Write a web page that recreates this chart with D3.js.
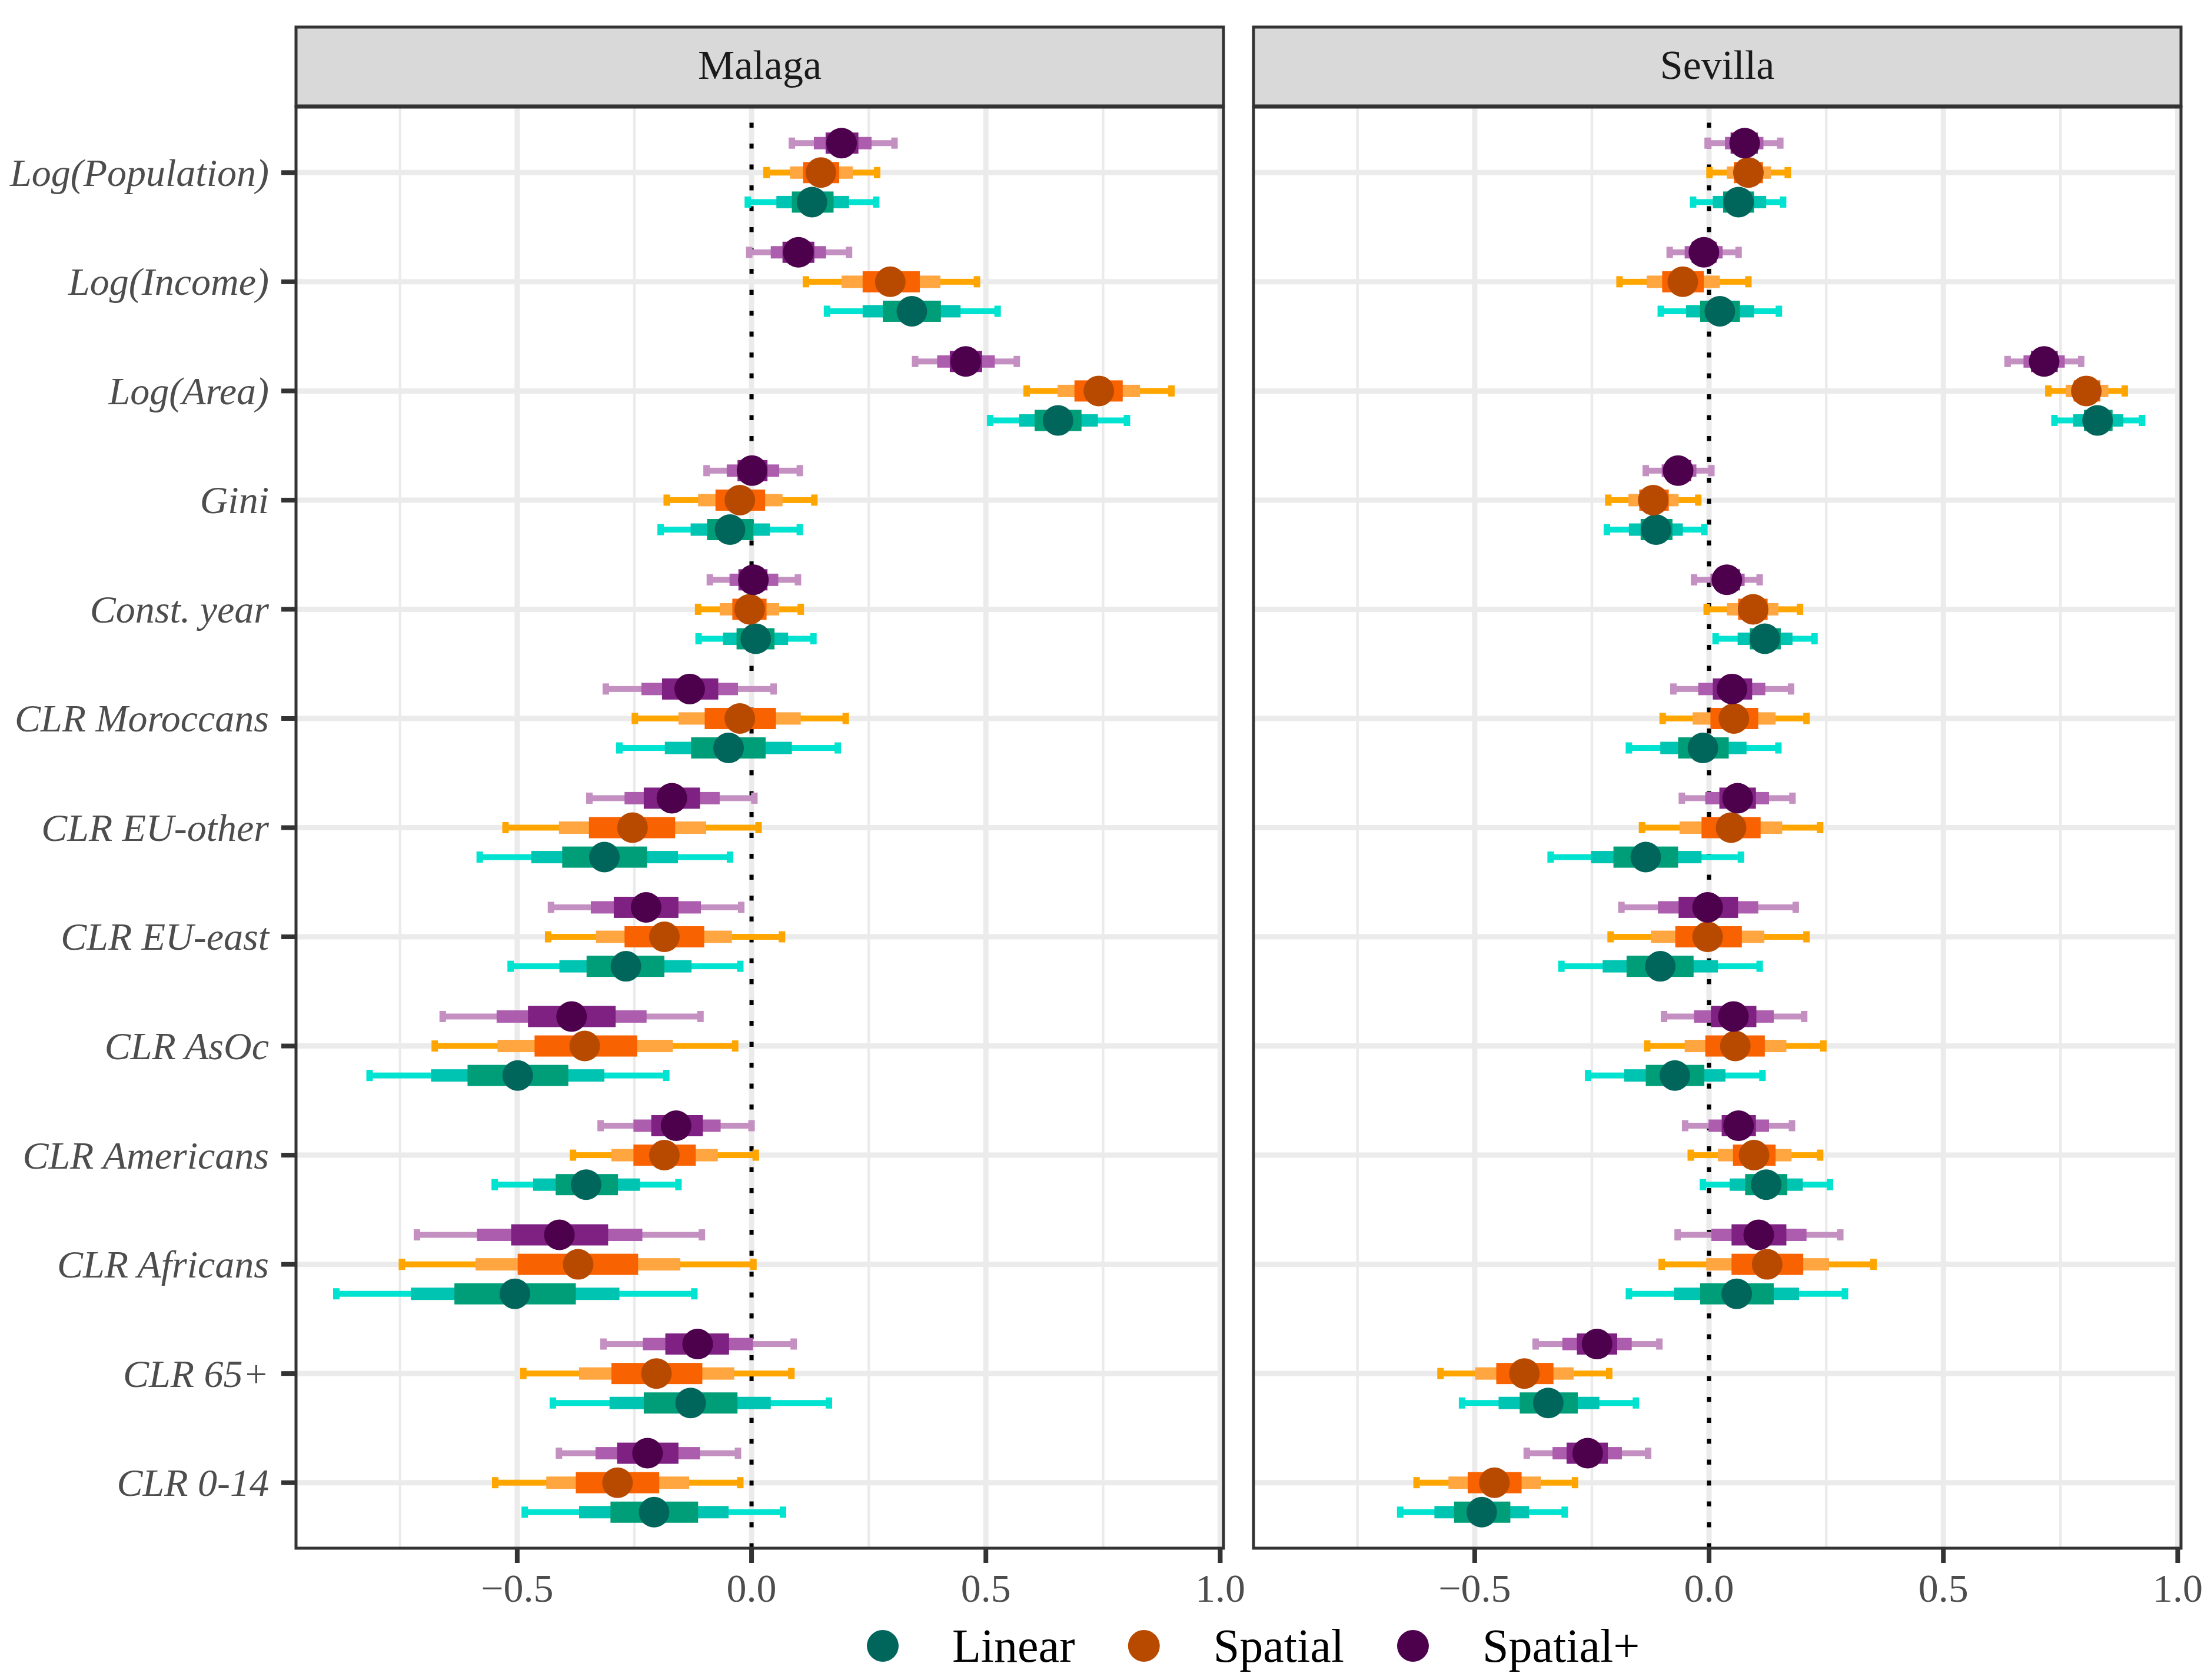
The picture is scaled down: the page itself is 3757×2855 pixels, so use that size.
<!DOCTYPE html>
<html>
<meta charset="utf-8">
<style>
    body { margin: 0; background: #fff; }
    svg { display: block; }
</style>
<body>
<svg width="3757" height="2855"></svg>
<script src="https://d3js.org/d3.v7.min.js"></script>
<script>

    // row labels, top to bottom
    const vars = ["Log(Population)", "Log(Income)", "Log(Area)", "Gini", "Const. year",
        "CLR Moroccans", "CLR EU-other", "CLR EU-east", "CLR AsOc", "CLR Americans",
        "CLR Africans", "CLR 65+", "CLR 0-14"];
    const cities = ["Malaga", "Sevilla"];
    const models = ["Linear", "Spatial", "Spatial+"];
    const xTicks = [-0.5, 0, 0.5, 1.0];
    const xTickLabels = ["\u22120.5", "0.0", "0.5", "1.0"];

    // each row: [lo95, lo80, lo50, estimate, hi50, hi80, hi95]
    const malagaLinear = [
        [-0.008, 0.053, 0.086, 0.129, 0.175, 0.208, 0.266],
        [0.161, 0.237, 0.280, 0.342, 0.404, 0.446, 0.525],
        [0.509, 0.571, 0.604, 0.654, 0.704, 0.739, 0.801],
        [-0.194, -0.130, -0.095, -0.046, 0.004, 0.039, 0.103],
        [-0.113, -0.061, -0.032, 0.009, 0.049, 0.078, 0.132],
        [-0.282, -0.185, -0.129, -0.049, 0.030, 0.086, 0.184],
        [-0.580, -0.470, -0.404, -0.314, -0.223, -0.157, -0.046],
        [-0.514, -0.410, -0.352, -0.268, -0.186, -0.128, -0.024],
        [-0.815, -0.684, -0.606, -0.499, -0.391, -0.314, -0.182],
        [-0.548, -0.466, -0.418, -0.353, -0.285, -0.238, -0.156],
        [-0.886, -0.727, -0.634, -0.505, -0.375, -0.282, -0.122],
        [-0.424, -0.303, -0.230, -0.130, -0.030, 0.041, 0.165],
        [-0.484, -0.368, -0.301, -0.208, -0.114, -0.049, 0.067]
    ];
    const malagaSpatial = [
        [0.032, 0.082, 0.110, 0.148, 0.187, 0.216, 0.268],
        [0.116, 0.192, 0.237, 0.296, 0.359, 0.403, 0.481],
        [0.587, 0.653, 0.689, 0.741, 0.792, 0.829, 0.896],
        [-0.181, -0.114, -0.077, -0.025, 0.029, 0.066, 0.134],
        [-0.114, -0.068, -0.041, -0.004, 0.032, 0.059, 0.105],
        [-0.249, -0.156, -0.100, -0.025, 0.052, 0.105, 0.201],
        [-0.525, -0.411, -0.347, -0.254, -0.163, -0.097, 0.015],
        [-0.434, -0.332, -0.271, -0.186, -0.101, -0.042, 0.065],
        [-0.676, -0.542, -0.463, -0.356, -0.244, -0.168, -0.035],
        [-0.381, -0.299, -0.252, -0.186, -0.119, -0.072, 0.009],
        [-0.746, -0.589, -0.499, -0.370, -0.242, -0.152, 0.004],
        [-0.487, -0.368, -0.299, -0.203, -0.105, -0.037, 0.085],
        [-0.547, -0.438, -0.375, -0.286, -0.197, -0.133, -0.024]
    ];
    const malagaSpatialPlus = [
        [0.086, 0.133, 0.158, 0.192, 0.228, 0.256, 0.305],
        [-0.005, 0.041, 0.066, 0.100, 0.134, 0.159, 0.208],
        [0.349, 0.396, 0.423, 0.457, 0.492, 0.519, 0.566],
        [-0.096, -0.053, -0.030, 0.001, 0.034, 0.059, 0.103],
        [-0.089, -0.047, -0.028, 0.004, 0.034, 0.057, 0.099],
        [-0.311, -0.235, -0.191, -0.132, -0.071, -0.029, 0.047],
        [-0.346, -0.271, -0.230, -0.170, -0.110, -0.068, 0.006],
        [-0.428, -0.343, -0.294, -0.225, -0.156, -0.108, -0.022],
        [-0.659, -0.544, -0.477, -0.384, -0.290, -0.224, -0.109],
        [-0.322, -0.252, -0.214, -0.161, -0.104, -0.066, 0.000],
        [-0.714, -0.586, -0.513, -0.410, -0.306, -0.233, -0.106],
        [-0.316, -0.232, -0.184, -0.115, -0.048, 0.003, 0.090],
        [-0.411, -0.333, -0.287, -0.222, -0.156, -0.110, -0.029]
    ];
    const sevillaLinear = [
        [-0.034, 0.008, 0.030, 0.063, 0.096, 0.122, 0.158],
        [-0.103, -0.049, -0.019, 0.023, 0.066, 0.096, 0.149],
        [0.737, 0.777, 0.800, 0.829, 0.861, 0.884, 0.924],
        [-0.218, -0.171, -0.146, -0.113, -0.078, -0.056, -0.010],
        [0.014, 0.061, 0.087, 0.119, 0.153, 0.178, 0.225],
        [-0.171, -0.104, -0.066, -0.013, 0.042, 0.080, 0.148],
        [-0.338, -0.252, -0.204, -0.135, -0.066, -0.016, 0.068],
        [-0.315, -0.227, -0.176, -0.104, -0.033, 0.019, 0.108],
        [-0.258, -0.181, -0.135, -0.073, -0.010, 0.035, 0.114],
        [-0.013, 0.044, 0.077, 0.122, 0.167, 0.200, 0.258],
        [-0.171, -0.075, -0.019, 0.059, 0.138, 0.192, 0.290],
        [-0.527, -0.449, -0.404, -0.343, -0.280, -0.234, -0.156],
        [-0.659, -0.586, -0.544, -0.485, -0.424, -0.384, -0.308]
    ];
    const sevillaSpatial = [
        [0.001, 0.038, 0.053, 0.084, 0.115, 0.132, 0.168],
        [-0.191, -0.133, -0.100, -0.056, -0.011, 0.023, 0.084],
        [0.724, 0.761, 0.778, 0.805, 0.835, 0.852, 0.887],
        [-0.215, -0.172, -0.149, -0.119, -0.086, -0.065, -0.023],
        [-0.005, 0.038, 0.062, 0.094, 0.125, 0.148, 0.194],
        [-0.099, -0.035, 0.003, 0.053, 0.105, 0.142, 0.208],
        [-0.143, -0.063, -0.016, 0.047, 0.110, 0.156, 0.237],
        [-0.210, -0.124, -0.072, -0.003, 0.070, 0.118, 0.208],
        [-0.132, -0.052, -0.008, 0.056, 0.119, 0.165, 0.244],
        [-0.039, 0.019, 0.051, 0.096, 0.142, 0.176, 0.237],
        [-0.101, -0.006, 0.048, 0.124, 0.201, 0.256, 0.351],
        [-0.573, -0.499, -0.454, -0.394, -0.332, -0.289, -0.213],
        [-0.624, -0.556, -0.515, -0.458, -0.400, -0.359, -0.286]
    ];
    const sevillaSpatialPlus = [
        [-0.003, 0.034, 0.046, 0.076, 0.104, 0.116, 0.152],
        [-0.084, -0.052, -0.037, -0.011, 0.016, 0.029, 0.063],
        [0.637, 0.671, 0.687, 0.715, 0.744, 0.759, 0.794],
        [-0.135, -0.101, -0.089, -0.066, -0.038, -0.027, 0.005],
        [-0.032, 0.003, 0.015, 0.038, 0.066, 0.076, 0.108],
        [-0.076, -0.023, 0.008, 0.049, 0.092, 0.120, 0.175],
        [-0.058, -0.008, 0.022, 0.061, 0.100, 0.128, 0.178],
        [-0.187, -0.109, -0.065, -0.003, 0.062, 0.105, 0.185],
        [-0.096, -0.032, 0.004, 0.052, 0.101, 0.138, 0.203],
        [-0.051, -0.001, 0.027, 0.063, 0.100, 0.128, 0.177],
        [-0.067, 0.005, 0.048, 0.106, 0.165, 0.208, 0.280],
        [-0.370, -0.313, -0.282, -0.239, -0.196, -0.165, -0.106],
        [-0.389, -0.334, -0.304, -0.259, -0.216, -0.186, -0.130]
    ];

    const seriesData = {
        "Malaga": {"Linear": malagaLinear, "Spatial": malagaSpatial, "Spatial+": malagaSpatialPlus},
        "Sevilla": {"Linear": sevillaLinear, "Spatial": sevillaSpatial, "Spatial+": sevillaSpatialPlus}
    };

    // colours per model: [whisker, 80% bar, 50% bar, point]
    const colors = {
        "Linear":   ["#00e3d0", "#00c4b2", "#009e78", "#00665c"],
        "Spatial":  ["#ffa500", "#ffa640", "#f86200", "#b84a00"],
        "Spatial+": ["#c390c1", "#ad5dad", "#7e2182", "#4d004c"]
    };

    const font = "'Liberation Serif', 'DejaVu Serif', serif";

    let svg = d3.select("svg"),
        panelTop = 182,
        panelH = 2449,
        panelW = 1576,
        panelX = {"Malaga": 503, "Sevilla": 2130},
        stripTop = 46;

    let x = d3.scaleLinear().domain([-0.972, 1.007]).range([0, panelW]);
    let y = d3.scalePoint().domain(vars).range([0, panelH]).padding(0.6);
    let dodge = d3.scaleOrdinal().domain(["Spatial+", "Spatial", "Linear"])
        .range([-0.27 * y.step(), 0, 0.27 * y.step()]);

    svg.append("rect").attr("width", 3757).attr("height", 2855).attr("fill", "#fff");

    cities.forEach(function (city) {
        let g = svg.append("g").attr("transform", "translate(" + panelX[city] + "," + panelTop + ")");

        // strip
        svg.append("rect")
            .attr("x", panelX[city]).attr("y", stripTop)
            .attr("width", panelW).attr("height", panelTop - stripTop - 2)
            .attr("fill", "#d9d9d9").attr("stroke", "#333333").attr("stroke-width", 5);
        svg.append("text")
            .attr("x", panelX[city] + panelW / 2).attr("y", 134)
            .attr("text-anchor", "middle")
            .attr("font-family", font).attr("font-size", 70)
            .attr("fill", "#1a1a1a")
            .text(city);

        // grid
        let minor = [-0.75, -0.25, 0.25, 0.75];
        g.selectAll(".minor").data(minor).enter().append("line")
            .attr("x1", x).attr("x2", x).attr("y1", 0).attr("y2", panelH)
            .attr("stroke", "#ebebeb").attr("stroke-width", 4.5);
        g.selectAll(".major").data(xTicks).enter().append("line")
            .attr("x1", x).attr("x2", x).attr("y1", 0).attr("y2", panelH)
            .attr("stroke", "#ebebeb").attr("stroke-width", 9);
        g.selectAll(".hgrid").data(vars).enter().append("line")
            .attr("x1", 0).attr("x2", panelW)
            .attr("y1", function (d) { return y(d); })
            .attr("y2", function (d) { return y(d); })
            .attr("stroke", "#ebebeb").attr("stroke-width", 9);

        // zero line
        g.append("line")
            .attr("x1", x(0)).attr("x2", x(0)).attr("y1", panelH).attr("y2", 0)
            .attr("stroke", "#000").attr("stroke-width", 7)
            .attr("stroke-dasharray", "8.5 27");

        let rows = [];
        models.forEach(function (m) {
            seriesData[city][m].forEach(function (v, i) {
                rows.push({model: m, cy: y(vars[i]) + dodge(m), v: v});
            });
        });

        // 95% whiskers with caps
        let wl = g.append("g");
        rows.forEach(function (d) {
            let c = colors[d.model][0];
            wl.append("rect")
                .attr("x", x(d.v[0])).attr("width", x(d.v[6]) - x(d.v[0]))
                .attr("y", d.cy - 5).attr("height", 10).attr("fill", c);
            [d.v[0], d.v[6]].forEach(function (e) {
                wl.append("rect")
                    .attr("x", x(e) - 5.5).attr("width", 11)
                    .attr("y", d.cy - 9.5).attr("height", 19).attr("fill", c);
            });
        });

        // 80% bars
        g.append("g").selectAll("rect").data(rows).enter().append("rect")
            .attr("x", function (d) { return x(d.v[1]); })
            .attr("width", function (d) { return x(d.v[5]) - x(d.v[1]); })
            .attr("y", function (d) { return d.cy - 10.5; })
            .attr("height", 21)
            .attr("fill", function (d) { return colors[d.model][1]; });

        // 50% bars
        g.append("g").selectAll("rect").data(rows).enter().append("rect")
            .attr("x", function (d) { return x(d.v[2]); })
            .attr("width", function (d) { return x(d.v[4]) - x(d.v[2]); })
            .attr("y", function (d) { return d.cy - 18; })
            .attr("height", 36)
            .attr("fill", function (d) { return colors[d.model][2]; });

        // estimates
        g.append("g").selectAll("circle").data(rows).enter().append("circle")
            .attr("cx", function (d) { return x(d.v[3]); })
            .attr("cy", function (d) { return d.cy; })
            .attr("r", 26)
            .attr("fill", function (d) { return colors[d.model][3]; });

        // panel border
        g.append("rect")
            .attr("width", panelW).attr("height", panelH)
            .attr("fill", "none").attr("stroke", "#333333").attr("stroke-width", 5);

        // x axis
        let xa = g.append("g").attr("transform", "translate(0," + panelH + ")");
        xa.selectAll("line").data(xTicks).enter().append("line")
            .attr("x1", x).attr("x2", x).attr("y1", 2).attr("y2", 25)
            .attr("stroke", "#333333").attr("stroke-width", 8);
        xa.selectAll("text").data(xTicks).enter().append("text")
            .attr("x", x).attr("y", 91)
            .attr("text-anchor", "middle")
            .attr("font-family", font).attr("font-size", 68)
            .attr("fill", "#4d4d4d")
            .text(function (d, i) { return xTickLabels[i]; });

        // y axis (left panel only)
        if (city === "Malaga") {
            let ya = g.append("g");
            ya.selectAll("line").data(vars).enter().append("line")
                .attr("x1", -25).attr("x2", -2)
                .attr("y1", function (d) { return y(d); })
                .attr("y2", function (d) { return y(d); })
                .attr("stroke", "#333333").attr("stroke-width", 8);
            ya.selectAll("text").data(vars).enter().append("text")
                .attr("x", -46)
                .attr("y", function (d) { return y(d); })
                .attr("dy", "0.34em")
                .attr("text-anchor", "end")
                .attr("font-family", font).attr("font-size", 66)
                .attr("font-style", "italic")
                .attr("fill", "#4d4d4d")
                .text(function (d) { return d; });
        }
    });

    // legend
    let legend = svg.append("g");
    let lx = 1500;
    models.forEach(function (m) {
        legend.append("circle")
            .attr("cx", lx).attr("cy", 2797).attr("r", 27)
            .attr("fill", colors[m][3]);
        let t = legend.append("text")
            .attr("x", lx + 118).attr("y", 2824)
            .attr("font-family", font).attr("font-size", 80)
            .attr("fill", "#000")
            .text(m);
        lx = lx + 118 + t.node().getComputedTextLength() + 117;
    });

</script>
</body>
</html>
